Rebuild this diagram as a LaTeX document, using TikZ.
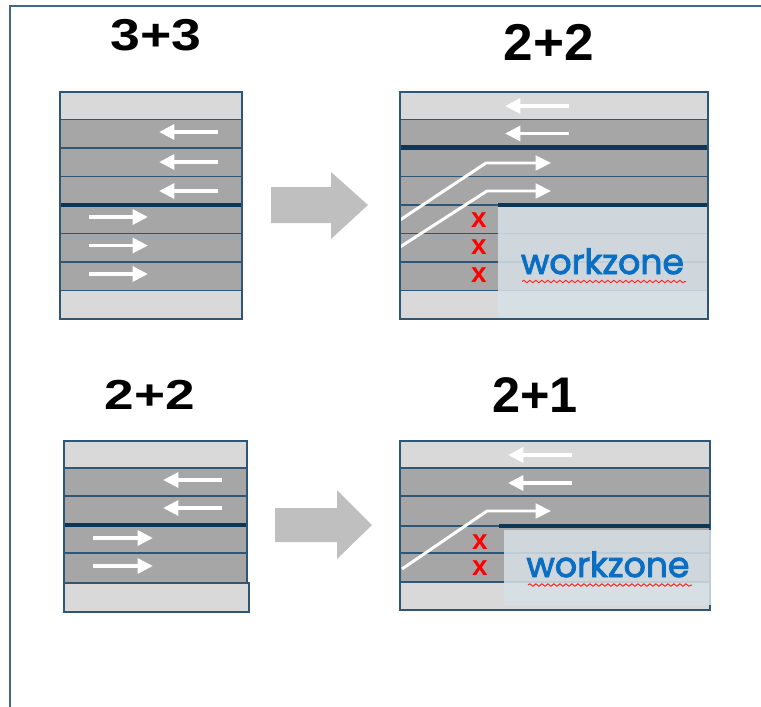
\documentclass[tikz,border=0pt]{standalone}
\usepackage{fontspec}
\usetikzlibrary{arrows.meta,decorations.pathmorphing}
\newfontfamily\titlefont{Liberation Sans}
\newfontfamily\wzfont{Poppins}[FakeBold=2.6]
\newfontfamily\xfont{Liberation Sans}
\definecolor{frameblue}{HTML}{40698A}
\definecolor{lineblue}{HTML}{2F5775}
\definecolor{median}{HTML}{0D3755}
\definecolor{lanegray}{HTML}{A6A6A6}
\definecolor{shoulder}{HTML}{D9D9D9}
\definecolor{bigarrow}{HTML}{BFBFBF}
\definecolor{wzfill}{HTML}{D6E0E5}
\definecolor{wzblue}{HTML}{0A6FC2}
\tikzset{
  frameline/.style={draw=frameblue, line width=1.5pt},
  laneline/.style={draw=lineblue, line width=1.4pt},
  medianline/.style={draw=median, line width=3.6pt},
  whitearrow/.style={draw=white, line width=2.9pt, -{Triangle[length=11.5pt,width=11pt]}},
  shiftarrow/.style={draw=white, line width=2.2pt, line join=round, -{Triangle[length=11.5pt,width=11pt]}},
  bigarrowshape/.style={fill=bigarrow, draw=none},
  overlay/.style={fill=wzfill, fill opacity=0.86, draw=none},
  redx/.style={text=red, font=\xfont\bfseries\fontsize{21}{21}\selectfont, inner sep=0pt},
  wztext/.style={text=wzblue, font=\wzfont\fontsize{26}{26}\selectfont, inner sep=0pt, anchor=base},
  squiggle/.style={draw=red!85, line width=0.75pt, decorate, decoration={snake, amplitude=0.9pt, segment length=4.5pt}},
  titletext/.style={font=\titlefont\bfseries\fontsize{33.5}{33.5}\selectfont, inner sep=0pt}
}
\begin{document}
\begin{tikzpicture}[x=0.75pt,y=-0.75pt]
\useasboundingbox (0,0) rectangle (761,707);
% frame
\draw[frameline] (10,708) -- (10,6) -- (762,6);

% ================= panel 1: 3+3 =================
\node[titletext] (t1) at (156,35) {\scalebox{1.2}[1.0]{3+3}};
\fill[shoulder] (60,92) rectangle (242,119.5);
\fill[lanegray] (60,119.5) rectangle (242,290.5);
\fill[shoulder] (60,290.5) rectangle (242,319);
\foreach \y in {119.5,148,176.5,233.5,262,290.5} \draw[laneline] (60,\y) -- (242,\y);
\draw[medianline] (60,205) -- (242,205);
\draw[laneline] (60,92) rectangle (242,319);
\foreach \y in {132,162,191} \draw[whitearrow] (218,\y) -- (159,\y);
\foreach \y in {217,245.5,274} \draw[whitearrow] (89,\y) -- (148,\y);
% big arrow 1
\fill[bigarrowshape] (271,187) -- (331,187) -- (331,172) -- (368,205) -- (331,239) -- (331,223) -- (271,223) -- cycle;

% ================= panel 2: 2+2 (workzone) =================
\node[titletext] (t2) at (549,42) {\scalebox{1.19}[1.16]{2+2}};
\fill[shoulder] (400,92) rectangle (708,119.5);
\fill[lanegray] (400,119.5) rectangle (708,290.5);
\fill[shoulder] (400,290.5) rectangle (708,319);
\foreach \y in {119.5,176.5,233.5,262,290.5} \draw[laneline] (400,\y) -- (708,\y);
\draw[laneline] (400,205) -- (498,205);
\draw[medianline] (400,147.5) -- (708,147.5);
\foreach \y in {106,133.5} \draw[whitearrow] (569,\y) -- (505,\y);
\draw[shiftarrow] (400,220) -- (486,163) -- (551,163);
\draw[shiftarrow] (400,247) -- (487,191) -- (551,191);
\node[redx] (x1) at (479,220) {x};
\node[redx] (x2) at (479,247.5) {x};
\node[redx] (x3) at (479,275.5) {x};
\fill[overlay] (498,206) rectangle (708,319);
\draw[medianline] (498,205) -- (708,205);
\draw[laneline] (400,92) rectangle (708,319);
\node[wztext] (wz1) at (602.5,274) {workzone};
\draw[squiggle] (522,281.5) -- (686,281.5);

% ================= panel 3: 2+2 =================
\node[titletext] (t3) at (150,395) {\scalebox{1.19}[0.94]{2+2}};
\fill[shoulder] (64,441) rectangle (247,468);
\fill[lanegray] (64,468) rectangle (247,583);
\fill[shoulder] (64,583) rectangle (249,612);
\foreach \y in {468,496,553} \draw[laneline] (64,\y) -- (247,\y);
\draw[laneline] (64,583) -- (249,583);
\draw[medianline] (64,525) -- (247,525);
\draw[laneline] (64,583) -- (64,441) -- (247,441) -- (247,583);
\draw[laneline] (64,583) rectangle (249,612);
\foreach \y in {480,508} \draw[whitearrow] (222,\y) -- (163,\y);
\foreach \y in {538,566} \draw[whitearrow] (93,\y) -- (153,\y);
% big arrow 2
\fill[bigarrowshape] (275,508) -- (337,508) -- (337,490) -- (372,525) -- (337,559) -- (337,542) -- (275,542) -- cycle;

% ================= panel 4: 2+1 =================
\node[titletext] (t4) at (535,395) {\scalebox{1.13}[1.12]{2+1}};
\fill[shoulder] (400,441) rectangle (710,468);
\fill[lanegray] (400,468) rectangle (710,582);
\fill[shoulder] (400,582) rectangle (710,610);
\foreach \y in {468,496,553,582} \draw[laneline] (400,\y) -- (710,\y);
\draw[laneline] (400,526) -- (499,526);
\draw[laneline] (400,441) rectangle (710,610);
\foreach \y in {455,483} \draw[whitearrow] (572,\y) -- (508,\y);
\draw[shiftarrow] (402,569) -- (487,511) -- (551,511);
\node[redx] (x4) at (480,542) {x};
\node[redx] (x5) at (480,568) {x};
\fill[overlay] (504,530) rectangle (711,605);
\draw[medianline] (499,526) -- (710,526);
\node[wztext] (wz2) at (608,577) {workzone};
\draw[squiggle] (528,585) -- (692,585);
\end{tikzpicture}
\end{document}
